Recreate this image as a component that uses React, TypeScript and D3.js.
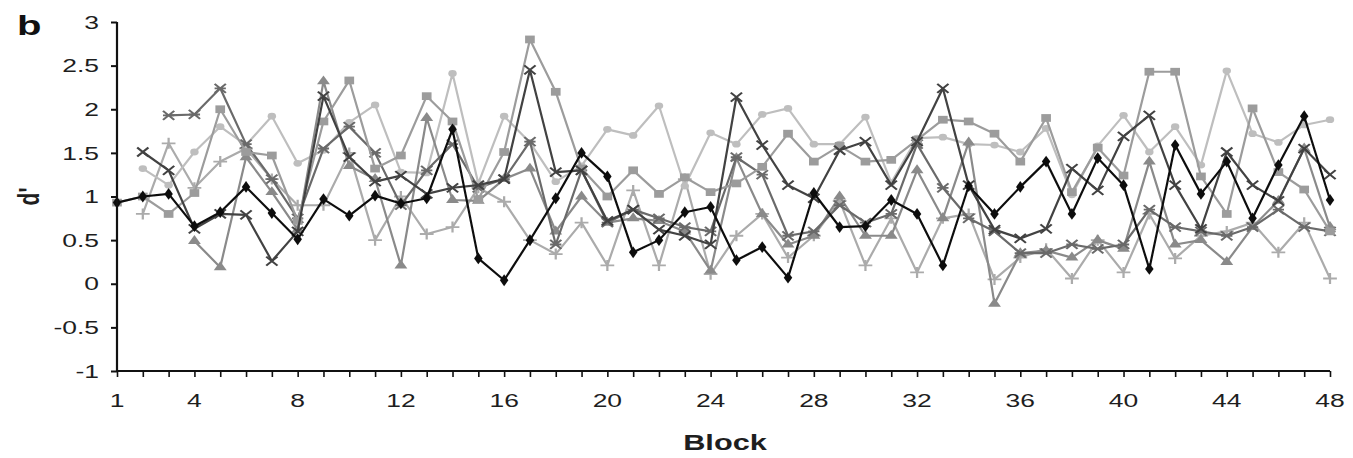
import React, { useEffect, useRef } from 'react'
import * as d3 from 'd3'

// blocks 1..48
const blocks = d3.range(1, 49)
const xTickLabels = [1, 4, 8, 12, 16, 20, 24, 28, 32, 36, 40, 44, 48]
const yTicks = [-1, -0.5, 0, 0.5, 1, 1.5, 2, 2.5, 3]

// d' per block, one array per participant (null = no block)
const diamondVals = [0.93, 1.0, 1.03, 0.66, 0.82, 1.11, 0.81, 0.51, 0.97, 0.78, 1.01, 0.92, 0.98, 1.77, 0.29, 0.04, 0.5, 0.98, 1.5, 1.23, 0.36, 0.5, 0.82, 0.88, 0.27, 0.42, 0.07, 1.04, 0.65, 0.66, 0.96, 0.8, 0.21, 1.12, 0.8, 1.11, 1.4, 0.8, 1.44, 1.13, 0.17, 1.59, 1.03, 1.4, 0.75, 1.36, 1.92, 0.96]
const squareVals = [0.93, 1.0, 0.8, 1.04, 2.0, 1.51, 1.47, 0.72, 1.86, 2.33, 1.32, 1.47, 2.15, 1.86, 0.97, 1.51, 2.8, 2.2, 1.32, 1.0, 1.3, 1.03, 1.22, 1.05, 1.15, 1.34, 1.72, 1.4, 1.58, 1.4, 1.42, 1.65, 1.88, 1.86, 1.72, 1.4, 1.9, 1.05, 1.56, 1.24, 2.43, 2.43, 1.23, 0.8, 2.01, 1.28, 1.08, 0.6]
const triangleVals = [null, null, null, 0.49, 0.19, 1.45, 1.05, 0.62, 2.32, 1.35, 1.2, 0.21, 1.9, 0.96, 0.95, 1.2, 1.32, 0.6, 1.0, 0.7, 0.75, 0.72, 0.6, 0.15, 1.44, 0.8, 0.45, 0.55, 1.0, 0.55, 0.55, 1.3, 0.75, 1.62, -0.23, 0.35, 0.38, 0.3, 0.5, 0.4, 1.4, 0.45, 0.5, 0.25, 0.65, 0.95, 1.55, 0.65]
const crossVals = [null, 1.51, 1.3, 0.63, 0.8, 0.79, 0.26, 0.6, 2.15, 1.45, 1.17, 1.24, 1.03, 1.1, 1.13, 1.2, 2.45, 1.28, 1.3, 0.72, 0.85, 0.62, 0.55, 0.45, 2.14, 1.59, 1.13, 0.98, 1.53, 1.63, 1.13, 1.63, 2.24, 1.13, 0.62, 0.52, 0.63, 1.32, 1.07, 1.69, 1.93, 1.13, 0.63, 1.51, 1.13, 0.95, 1.55, 1.25]
const starVals = [null, null, 1.93, 1.94, 2.24, 1.6, 1.2, 0.75, 1.55, 1.8, 1.5, 0.9, 1.3, 1.6, 1.1, 1.2, 1.63, 0.45, 1.3, 0.7, 0.85, 0.75, 0.65, 0.6, 1.45, 1.25, 0.55, 0.6, 0.9, 0.7, 0.8, 1.6, 1.1, 0.75, 0.6, 0.35, 0.35, 0.45, 0.4, 0.45, 0.85, 0.65, 0.6, 0.55, 0.65, 0.85, 0.65, 0.6]
const circleVals = [null, 1.32, 1.13, 1.51, 1.8, 1.59, 1.92, 1.38, 1.53, 1.85, 2.05, 1.28, 1.27, 2.41, 1.15, 1.92, 1.62, 1.17, 1.35, 1.77, 1.7, 2.04, 1.12, 1.73, 1.6, 1.94, 2.01, 1.6, 1.6, 1.91, 1.16, 1.67, 1.68, 1.6, 1.59, 1.51, 1.78, 1.02, 1.58, 1.93, 1.51, 1.8, 1.36, 2.44, 1.72, 1.62, 1.82, 1.88]
const plusVals = [null, 0.8, 1.61, 1.1, 1.4, 1.55, 1.2, 0.9, 0.9, 1.5, 0.5, 1.0, 0.57, 0.65, 1.1, 0.94, 0.5, 0.34, 0.7, 0.21, 1.07, 0.21, 1.2, 0.11, 0.55, 0.8, 0.3, 0.55, 0.95, 0.21, 0.75, 0.13, 0.75, 0.8, 0.05, 0.3, 0.4, 0.06, 0.5, 0.13, 0.8, 0.29, 0.55, 0.6, 0.7, 0.36, 0.7, 0.06]

const series = [
  { vals: plusVals, color: '#ababab', marker: 'plus' },
  { vals: circleVals, color: '#bebebe', marker: 'circle' },
  { vals: triangleVals, color: '#8a8a8a', marker: 'triangle' },
  { vals: starVals, color: '#6a6a6a', marker: 'star' },
  { vals: squareVals, color: '#9c9c9c', marker: 'square' },
  { vals: crossVals, color: '#424242', marker: 'cross' },
  { vals: diamondVals, color: '#111111', marker: 'diamond' },
]

const W = 1353
const H = 458
const font = '"Liberation Sans", Arial, sans-serif'
const sx = 1.43 // the figure is stretched sideways

export default function App() {
  const ref = useRef(null)

  useEffect(() => {
    const svg = d3.select(ref.current)
    svg.selectAll('*').remove()

    const x = d3.scaleLinear().domain([1, 48]).range([117, 1330])
    const y = d3.scaleLinear().domain([-1, 3]).range([371, 22])

    const defs = svg.append('defs')
    defs.append('filter').attr('id', 'soft')
      .append('feGaussianBlur').attr('stdDeviation', 0.45)

    const line = d3.line()
      .defined(d => d[1] !== null)
      .x(d => x(d[0]))
      .y(d => y(d[1]))

    const plot = svg.append('g').attr('filter', 'url(#soft)')

    series.forEach(s => {
      const pts = blocks.map((b, i) => [b, s.vals[i]])
      plot.append('path')
        .attr('d', line(pts))
        .attr('fill', 'none')
        .attr('stroke', s.color)
        .attr('stroke-width', 2.2)
        .attr('stroke-linejoin', 'round')

      const g = plot.append('g')
      pts.filter(d => d[1] !== null).forEach(d => {
        const m = g.append('g').attr('transform', `translate(${x(d[0])},${y(d[1])}) scale(1.25,1)`)
        if (s.marker === 'diamond') {
          m.append('path').attr('d', d3.symbol(d3.symbolDiamond, 40)()).attr('fill', s.color)
        } else if (s.marker === 'square') {
          m.append('path').attr('d', d3.symbol(d3.symbolSquare, 60)()).attr('fill', s.color)
        } else if (s.marker === 'triangle') {
          m.append('path').attr('d', d3.symbol(d3.symbolTriangle, 46)()).attr('fill', s.color)
        } else if (s.marker === 'circle') {
          m.append('path').attr('d', d3.symbol(d3.symbolCircle, 36)()).attr('fill', s.color)
        } else {
          const r = 4.5
          let p = ''
          if (s.marker === 'cross' || s.marker === 'star') p += `M${-r},${-r}L${r},${r}M${-r},${r}L${r},${-r}`
          if (s.marker === 'star') p += `M${-r},0L${r},0`
          if (s.marker === 'plus') p += `M-5.5,0L5.5,0M0,-5.5L0,5.5`
          m.append('path').attr('d', p).attr('stroke', s.color).attr('stroke-width', 1.8).attr('fill', 'none')
        }
      })
    })

    // y axis
    const yAxis = svg.append('g')
      .attr('transform', `translate(117,0)`)
      .call(d3.axisLeft(y).tickValues(yTicks).tickSize(6).tickFormat(() => ''))
    yAxis.select('.domain').attr('stroke', '#111').attr('stroke-width', 2.2).attr('d', `M0,${y(3)}V${y(-1)}`)
    yAxis.selectAll('.tick line').attr('stroke', '#111').attr('stroke-width', 2)

    svg.append('g').selectAll('text').data(yTicks).join('text')
      .attr('transform', d => `translate(99,${y(d) + 6.7}) scale(${sx},1)`)
      .attr('text-anchor', 'end')
      .attr('font-family', font).attr('font-size', 18.5).attr('fill', '#1e1e1e')
      .text(d => String(d))

    // x axis
    const xAxis = svg.append('g')
      .attr('transform', `translate(0,${y(-1)})`)
      .call(d3.axisBottom(x).tickValues(blocks).tickSize(6).tickFormat(() => ''))
    xAxis.select('.domain').attr('stroke', '#111').attr('stroke-width', 2.2).attr('d', `M${x(1)},0H${x(48)}`)
    xAxis.selectAll('.tick line').attr('stroke', '#111').attr('stroke-width', 1.6)

    svg.append('g').selectAll('text').data(xTickLabels).join('text')
      .attr('transform', d => `translate(${x(d)},${y(-1) + 36}) scale(${sx},1)`)
      .attr('text-anchor', 'middle')
      .attr('font-family', font).attr('font-size', 18.5).attr('fill', '#1e1e1e')
      .text(d => String(d))

    svg.append('text')
      .attr('transform', `translate(725,450) scale(${sx},1)`)
      .attr('text-anchor', 'middle')
      .attr('font-family', font).attr('font-weight', 'bold').attr('font-size', 21.5)
      .attr('fill', '#1e1e1e')
      .text('Block')

    svg.append('text')
      .attr('transform', `translate(39,${y(1)}) scale(${sx},1) rotate(-90)`)
      .attr('text-anchor', 'middle')
      .attr('font-family', font).attr('font-weight', 'bold').attr('font-size', 21)
      .attr('fill', '#1e1e1e')
      .text("d'")

    svg.append('text')
      .attr('transform', `translate(17,35) scale(${sx},1)`)
      .attr('font-family', font).attr('font-weight', 'bold').attr('font-size', 28)
      .attr('fill', '#111')
      .text('b')
  }, [])

  return (
    <svg ref={ref} width={W} height={H}
      style={{ position: 'absolute', left: 0, top: 0, background: '#fff' }} />
  )
}
